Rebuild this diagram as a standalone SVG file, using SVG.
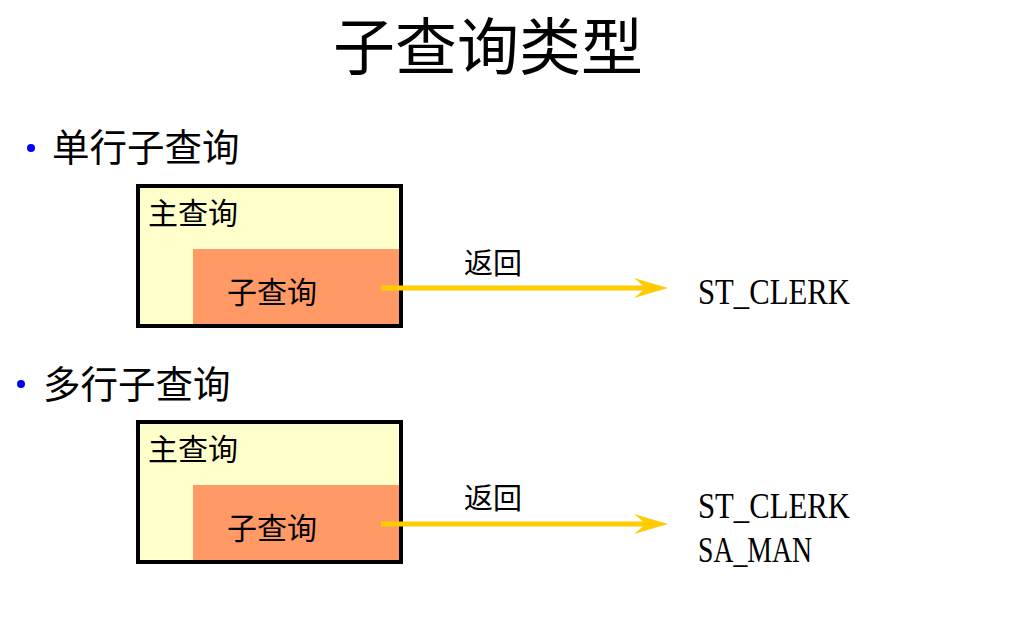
<svg xmlns="http://www.w3.org/2000/svg" width="1016" height="623" viewBox="0 0 1016 623">
<style>
.cjk{font-family:"Noto Sans CJK SC","Noto Sans CJK JP",sans-serif;fill:#000}
.lat{font-family:"Liberation Serif","Noto Sans CJK SC",serif;fill:#000;font-size:35px}
.outer{fill:#FFFFCC;stroke:#000;stroke-width:4}
.inner{fill:#FF9966}
.arr{stroke:#FFCC00;stroke-width:5;fill:none}
.head{fill:#FFCC00}
</style>
<rect width="1016" height="623" fill="#fff"/>
<text class="cjk" x="488" y="70" font-size="62" text-anchor="middle">子查询类型</text>
<g id="bullet1">
<circle cx="31" cy="148" r="4" fill="#0000FF"/>
<text class="cjk" x="52" y="161" font-size="37.5">单行子查询</text>
</g>
<g id="bullet2">
<circle cx="21" cy="384" r="4" fill="#0000FF"/>
<text class="cjk" x="43" y="398" font-size="37.5">多行子查询</text>
</g>
<g id="node-main1">
<rect class="outer" x="138" y="186" width="263" height="140"/>
<text class="cjk" x="148" y="224" font-size="30">主查询</text>
</g>
<g id="node-sub1">
<rect class="inner" x="193" y="249" width="206" height="75"/>
<text class="cjk" x="227" y="303" font-size="30">子查询</text>
</g>
<g id="node-main2">
<rect class="outer" x="138" y="422" width="263" height="140"/>
<text class="cjk" x="148" y="460" font-size="30">主查询</text>
</g>
<g id="node-sub2">
<rect class="inner" x="193" y="485" width="206" height="75"/>
<text class="cjk" x="227" y="539" font-size="30">子查询</text>
</g>
<g id="connectors">
<line class="arr" x1="381" y1="288" x2="648" y2="288"/>
<polygon class="head" points="668,288 634,278 646,288 634,298"/>
<text class="cjk" x="464" y="274" font-size="29">返回</text>
<line class="arr" x1="381" y1="524" x2="648" y2="524"/>
<polygon class="head" points="668,524 634,514 646,524 634,534"/>
<text class="cjk" x="464" y="509" font-size="29">返回</text>
</g>
<g id="result1">
<text class="lat" x="698" y="304" textLength="152" lengthAdjust="spacingAndGlyphs">ST_CLERK</text>
</g>
<g id="result2">
<text class="lat" x="698" y="518" textLength="152" lengthAdjust="spacingAndGlyphs">ST_CLERK</text>
<text class="lat" x="698" y="562" textLength="114" lengthAdjust="spacingAndGlyphs">SA_MAN</text>
</g>
</svg>
